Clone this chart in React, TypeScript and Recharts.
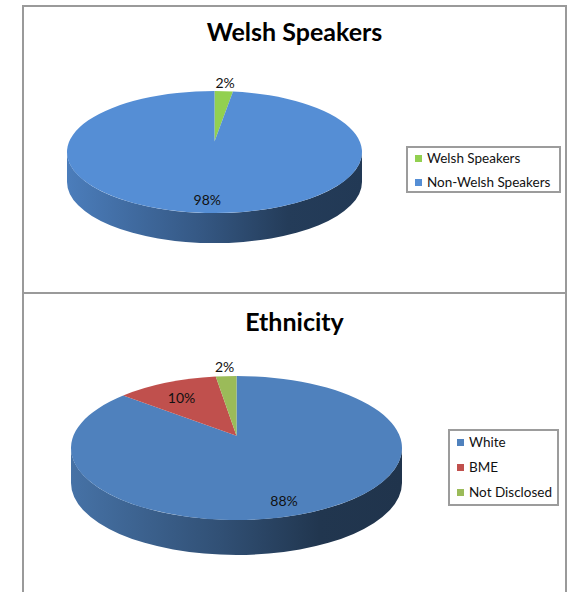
import React from 'react';
import { PieChart, Pie, Legend } from 'recharts';

const welshNames = ['Welsh Speakers', 'Non-Welsh Speakers'];
const welshValues = [2, 98];
const welshColors = ['#92D050', '#558ED5'];

const ethnicityNames = ['White', 'BME', 'Not Disclosed'];
const ethnicityValues = [88, 10, 2];
const ethnicityColors = ['#4F81BD', '#C0504D', '#9BBB59'];

const FONT = 'Lato, "Open Sans", sans-serif';
const RAD = Math.PI / 180;

const toRows = (names: string[], values: number[]) =>
    names.map((name, i) => ({ name, value: values[i] }));

function shade(hex: string, f: number) {
    const n = parseInt(hex.slice(1), 16);
    const r = Math.round(((n >> 16) & 255) * f);
    const g = Math.round(((n >> 8) & 255) * f);
    const b = Math.round((n & 255) * f);
    return `rgb(${r},${g},${b})`;
}

// draws the tilted top + the front wall of one slice, using the angles Pie computed
const makeSliceShape = (colors: string[], tilt: number, depth: number, id: string) => (props: any) => {
    const { cx, cy, outerRadius, startAngle, endAngle, index } = props;
    const rx = outerRadius;
    const ry = outerRadius * tilt;
    const apexY = cy - ry * 0.17;
    const color = colors[index];
    const hi = Math.max(startAngle, endAngle);
    const lo = Math.min(startAngle, endAngle);
    const p = (a: number, dy = 0) => `${cx + rx * Math.cos(a * RAD)},${cy - ry * Math.sin(a * RAD) + dy}`;

    const walls: string[] = [];
    for (let k = -2; k <= 1; k++) {
        const a = Math.max(lo, k * 360 - 180);
        const b = Math.min(hi, k * 360);
        if (b - a > 0.01) {
            const large = b - a > 180 ? 1 : 0;
            walls.push(
                `M${p(b)} A${rx} ${ry} 0 ${large} 1 ${p(a)} L${p(a, depth)} A${rx} ${ry} 0 ${large} 0 ${p(b, depth)} Z`
            );
        }
    }
    const large = hi - lo > 180 ? 1 : 0;
    const top = `M${cx},${apexY} L${p(hi)} A${rx} ${ry} 0 ${large} 1 ${p(lo)} Z`;
    const gid = `${id}-wall-${index}`;

    return (
        <g key={gid}>
            <defs>
                <linearGradient id={gid} gradientUnits="userSpaceOnUse" x1={cx - rx} y1={0} x2={cx + rx} y2={0}>
                    <stop offset="0%" stopColor={shade(color, 0.88)} />
                    <stop offset="45%" stopColor={shade(color, 0.62)} />
                    <stop offset="75%" stopColor={shade(color, 0.42)} />
                    <stop offset="100%" stopColor={shade(color, 0.4)} />
                </linearGradient>
            </defs>
            {walls.map((d, i) => (
                <path key={i} d={d} fill={`url(#${gid})`} />
            ))}
            <path d={top} fill={color} />
        </g>
    );
};

const makeValueLabel = (tilt: number) => (props: any) => {
    const { cx, cy, outerRadius, midAngle, percent, index } = props;
    const outside = percent < 0.05;
    const f = outside ? 1.14 : 0.78;
    const x = cx + outerRadius * f * Math.cos(midAngle * RAD);
    const y = cy - outerRadius * tilt * f * Math.sin(midAngle * RAD);
    return (
        <text key={`lbl-${index}`} x={x} y={y} textAnchor="middle" dominantBaseline="central"
            fontFamily={FONT} fontSize={14} fill="#111">
            {`${Math.round(percent * 100)}%`}
        </text>
    );
};

const makeLegend = (names: string[], colors: string[], firstRow: number, rowGap: number, width: number, height: number) => () => (
    <div style={{
        position: 'relative', width, height, boxSizing: 'border-box', border: '2px solid #9c9c9c', background: '#fff',
        fontFamily: FONT, fontSize: 13.5, color: '#111',
    }}>
        {names.map((n, i) => (
            <div key={n} style={{
                position: 'absolute', left: 7, top: firstRow - 2 + i * rowGap - 10, height: 20,
                display: 'flex', alignItems: 'center', whiteSpace: 'nowrap',
            }}>
                <span style={{ width: 7, height: 7, background: colors[i], marginRight: 5, display: 'inline-block' }} />
                {n}
            </div>
        ))}
    </div>
);

type PanelProps = {
    id: string; title: string; names: string[]; values: number[]; colors: string[];
    top: number; height: number; cx: number; cy: number; radius: number; tilt: number; depth: number;
    titleY: number; legendX: number; legendY: number; legendW: number; legendH: number; firstRow: number; rowGap: number;
};

const Panel: React.FC<PanelProps> = (p) => {
    const rows = toRows(p.names, p.values);
    return (
        <div style={{ position: 'absolute', left: 22, top: p.top, width: 545, height: p.height }}>
            <div style={{
                position: 'absolute', left: 0, top: p.titleY - 15, width: 545, textAlign: 'center',
                fontFamily: FONT, fontWeight: 700, fontSize: 25, color: '#000', lineHeight: '30px',
            }}>{p.title}</div>
            <PieChart width={545} height={p.height} margin={{ top: 0, right: 0, bottom: 0, left: 0 }}>
                <Pie data={rows} dataKey="value" nameKey="name" cx={p.cx} cy={p.cy} outerRadius={p.radius}
                    startAngle={90} endAngle={-270} fill="none" stroke="none" isAnimationActive={false}
                    labelLine={false} label={makeSliceShape(p.colors, p.tilt, p.depth, p.id)} />
                <Pie data={rows} dataKey="value" nameKey="name" cx={p.cx} cy={p.cy} outerRadius={p.radius}
                    startAngle={90} endAngle={-270} fill="none" stroke="none" isAnimationActive={false}
                    legendType="none" labelLine={false} label={makeValueLabel(p.tilt)} />
                <Legend content={makeLegend(p.names, p.colors, p.firstRow, p.rowGap, p.legendW, p.legendH)}
                    wrapperStyle={{ left: p.legendX, top: p.legendY, width: p.legendW, height: p.legendH }} />
            </PieChart>
        </div>
    );
};

export default function App() {
    return (
        <div style={{ position: 'absolute', left: 0, top: 0, width: 571, height: 592, overflow: 'hidden', background: '#fff' }}>
            <Panel id="welsh" title="Welsh Speakers" names={welshNames} values={welshValues} colors={welshColors}
                top={5} height={288} cx={192.5} cy={147} radius={147.5} tilt={0.414} depth={30}
                titleY={26} legendX={384} legendY={141} legendW={155} legendH={47} firstRow={12} rowGap={24} />
            <Panel id="eth" title="Ethnicity" names={ethnicityNames} values={ethnicityValues} colors={ethnicityColors}
                top={293} height={320} cx={214.5} cy={155} radius={165.5} tilt={0.435} depth={35}
                titleY={28} legendX={426} legendY={136} legendW={111} legendH={77} firstRow={13} rowGap={25} />
            <div style={{ position: 'absolute', left: 22, top: 5, width: 545, height: 289, boxSizing: 'border-box', border: '2px solid #9a9a9a', pointerEvents: 'none' }} />
            <div style={{ position: 'absolute', left: 22, top: 292, width: 545, height: 330, boxSizing: 'border-box', border: '2px solid #9a9a9a', pointerEvents: 'none' }} />
        </div>
    );
}
